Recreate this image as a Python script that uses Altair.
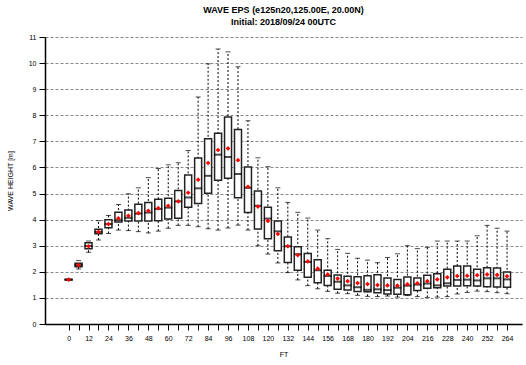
import altair as alt
import pandas as pd

ft = [0, 6, 12, 18, 24, 30, 36, 42, 48, 54, 60, 66, 72, 78, 84, 90, 96, 102, 108,
      114, 120, 126, 132, 138, 144, 150, 156, 162, 168, 174, 180, 186, 192, 198,
      204, 210, 216, 222, 228, 234, 240, 246, 252, 258, 264]

low = [1.68, 2.11, 2.75, 3.22, 3.47, 3.60, 3.58, 3.54, 3.49, 3.56, 3.67, 3.78, 3.78,
       3.73, 3.65, 3.60, 3.68, 3.79, 3.60, 3.00, 2.68, 2.34, 1.97, 1.69, 1.47, 1.35,
       1.25, 1.18, 1.16, 1.10, 1.06, 1.05, 1.07, 1.03, 1.09, 1.05, 1.02, 1.03, 1.05,
       1.15, 1.21, 1.26, 1.24, 1.20, 1.16]
q1 = [1.69, 2.19, 2.88, 3.46, 3.69, 3.91, 3.95, 3.95, 3.95, 3.96, 4.02, 4.05, 4.47,
      4.62, 5.01, 5.51, 5.59, 4.84, 4.27, 3.64, 3.27, 2.81, 2.36, 2.06, 1.79, 1.58,
      1.48, 1.33, 1.30, 1.25, 1.24, 1.20, 1.15, 1.14, 1.12, 1.28, 1.37, 1.39, 1.46,
      1.46, 1.47, 1.46, 1.43, 1.42, 1.41]
median = [1.70, 2.26, 2.99, 3.53, 3.83, 3.98, 4.07, 4.23, 4.27, 4.41, 4.46, 4.70, 4.85,
          5.20, 5.68, 6.49, 6.40, 5.75, 5.22, 4.53, 4.04, 3.55, 2.98, 2.67, 2.38, 2.06,
          1.84, 1.62, 1.48, 1.41, 1.31, 1.33, 1.30, 1.39, 1.47, 1.51, 1.55, 1.48, 1.56,
          1.69, 1.70, 1.67, 1.75, 1.75, 1.71]
q3 = [1.71, 2.33, 3.11, 3.63, 4.00, 4.28, 4.37, 4.59, 4.66, 4.78, 4.82, 5.12, 5.71,
      6.36, 7.10, 7.31, 7.93, 7.45, 6.02, 5.10, 4.47, 3.95, 3.33, 2.96, 2.70, 2.46,
      2.06, 1.88, 1.83, 1.81, 1.85, 1.89, 1.76, 1.71, 1.80, 1.76, 1.87, 1.93, 2.10,
      2.22, 2.22, 2.10, 2.16, 2.15, 1.99]
high = [1.72, 2.43, 3.18, 3.96, 4.16, 4.58, 4.99, 5.22, 5.61, 5.96, 6.10, 6.18, 6.65,
        8.70, 9.97, 10.54, 10.43, 9.86, 7.79, 6.37, 6.03, 5.22, 4.66, 4.28, 4.06, 3.60,
        3.27, 2.86, 2.71, 2.52, 2.45, 2.35, 2.55, 2.69, 3.00, 2.89, 2.94, 3.18, 3.18,
        3.18, 3.18, 3.38, 3.78, 3.67, 3.56]
mean = [1.70, 2.26, 2.98, 3.53, 3.83, 4.05, 4.15, 4.25, 4.34, 4.44, 4.53, 4.70, 5.03,
        5.53, 6.17, 6.67, 6.73, 6.28, 5.26, 4.50, 3.95, 3.45, 2.98, 2.64, 2.40, 2.12,
        1.90, 1.74, 1.64, 1.57, 1.53, 1.49, 1.48, 1.47, 1.52, 1.56, 1.64, 1.71, 1.79,
        1.84, 1.85, 1.87, 1.90, 1.88, 1.83]
y_ticks = [0, 1, 2, 3, 4, 5, 6, 7, 8, 9, 10, 11]

df = pd.DataFrame({"ft": ft, "low": low, "q1": q1, "median": median,
                   "q3": q3, "high": high, "mean": mean})

xscale = alt.Scale(domain=[-11.2, 270], nice=False, zero=False)
yscale = alt.Scale(domain=[0, 11], nice=False)

x_axis = alt.Axis(values=ft, title="FT",
                  labelExpr="datum.value % 12 == 0 ? datum.label : ''",
                  labelOverlap=False, labelFlush=False, grid=False,
                  tickSize=6, labelPadding=4, titlePadding=9,
                  domainColor="black", domainWidth=1.5, tickColor="black")
y_axis = alt.Axis(values=y_ticks, title="WAVE HEIGHT [m]", labelOverlap=False,
                  grid=True, gridDash=[3, 2], gridColor="#888888", gridWidth=1,
                  tickSize=6, labelPadding=3, titlePadding=15,
                  domainColor="black", domainWidth=1.5, tickColor="black")


def Y(field):
    return alt.Y(field + ":Q", scale=yscale, axis=y_axis, title="WAVE HEIGHT [m]")


base = alt.Chart(df).encode(x=alt.X("ft:Q", scale=xscale, axis=x_axis, title="FT"))

whisker = base.mark_rule(color="black", strokeDash=[2, 2], strokeWidth=1).encode(
    y=Y("low"), y2="high:Q")
cap_hi = base.mark_tick(color="black", orient="horizontal", size=5, thickness=1).encode(
    y=Y("high"))
cap_lo = base.mark_tick(color="black", orient="horizontal", size=5, thickness=1).encode(
    y=Y("low"))
box = base.mark_bar(size=7, fill="white", stroke="#222222", strokeWidth=1.5).encode(
    y=Y("q1"), y2="q3:Q")
med = base.mark_tick(color="black", orient="horizontal", size=8, thickness=2).encode(
    y=Y("median"))
mn = base.mark_point(shape="diamond", filled=True, color="#ff0000", size=22, opacity=1).encode(
    y=Y("mean"))

chart = alt.layer(whisker, cap_hi, cap_lo, box, med, mn).properties(
    width=477, height=287,
    autosize="none",
    padding={"left": 45, "top": 37, "right": 4, "bottom": 41},
    title=alt.TitleParams(
        text=["WAVE EPS (e125n20,125.00E, 20.00N)", "Initial: 2018/09/24 00UTC"],
        fontSize=9, fontWeight="bold", font="Liberation Sans", color="black",
        anchor="middle", offset=6, lineHeight=12),
).configure_axis(
    labelFont="Liberation Sans", titleFont="Liberation Sans",
    labelFontSize=7, titleFontSize=7, titleFontWeight="normal",
    labelColor="black", titleColor="black",
).configure_view(stroke=None)

chart.save("out.html", embed_options={"renderer": "svg", "actions": False})
